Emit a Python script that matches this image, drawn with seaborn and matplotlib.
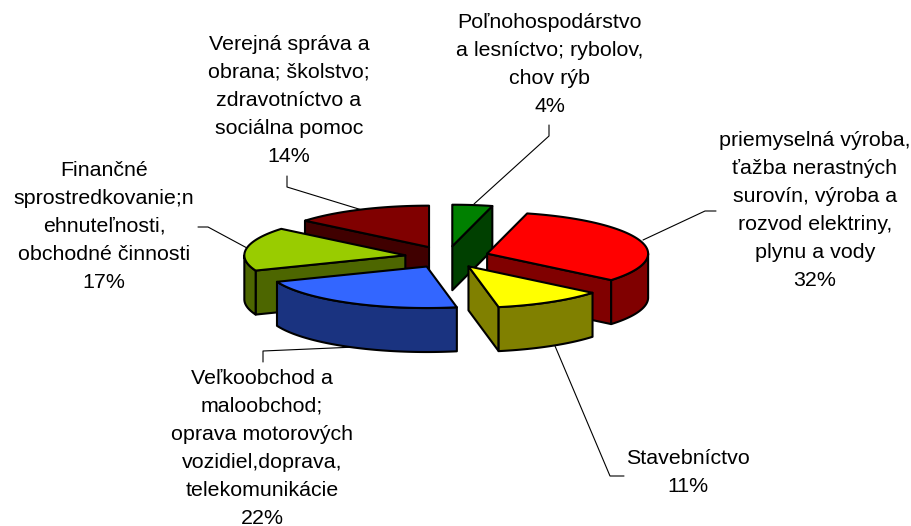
import numpy as np
import matplotlib
matplotlib.use("Agg")
import matplotlib.pyplot as plt
from matplotlib.patches import Polygon
import seaborn as sns

# ---- data -------------------------------------------------------------
categories = [
    "Poľnohospodárstvo\na lesníctvo; rybolov,\nchov rýb",
    "priemyselná výroba,\nťažba nerastných\nsurovín, výroba a\nrozvod elektriny,\nplynu a vody",
    "Stavebníctvo",
    "Veľkoobchod a\nmaloobchod;\noprava motorových\nvozidiel,doprava,\ntelekomunikácie",
    "Finančné\nsprostredkovanie;n\nehnuteľnosti,\nobchodné činnosti",
    "Verejná správa a\nobrana; školstvo;\nzdravotníctvo a\nsociálna pomoc",
]
values = [4, 32, 11, 22, 17, 14]
top_colors = ["#008000", "#FF0000", "#FFFF00", "#3366FF", "#99CC00", "#800000"]
side_colors = ["#004000", "#800000", "#808000", "#1A3380", "#4D6600", "#400000"]
draw_order = [0, 5, 4, 1, 2, 3]

# ---- pie geometry (pixels of the 912x526 canvas) ----------------------
W, H = 912, 526
CX, CY, RX, RY = 447, 257, 161, 41.5
DEPTH = 44
EXPLODE = 0.262

sns.set_theme(style="white")
plt.rcParams["font.family"] = ["Liberation Sans", "DejaVu Sans"]
fig = plt.figure(figsize=(W / 100, H / 100), dpi=100, facecolor="white")
ax = fig.add_axes([0, 0, 1, 1])
ax.set_xlim(0, W)
ax.set_ylim(H, 0)
ax.axis("off")


def pt(theta, r=1.0, origin=(CX, CY), dz=0.0):
    return (origin[0] + r * RX * np.sin(theta),
            origin[1] - r * RY * np.cos(theta) + dz)


fractions = np.array(values, dtype=float) / np.sum(values)
edges = np.concatenate([[0], np.cumsum(fractions)]) * 2 * np.pi
LW = 1.5

for rank, i in enumerate(draw_order):
    a0, a1 = edges[i], edges[i + 1]
    mid = (a0 + a1) / 2
    apex = pt(mid, EXPLODE)
    z = 2 + rank
    # radial cut faces that look toward the viewer
    for a, normal in ((a0, a0 - np.pi / 2), (a1, a1 + np.pi / 2)):
        if np.cos(normal) < -1e-6:
            p = pt(a, origin=apex)
            quad = [apex, p, (p[0], p[1] + DEPTH), (apex[0], apex[1] + DEPTH)]
            ax.add_patch(Polygon(quad, closed=True, fc=side_colors[i], ec="black",
                                 lw=LW, joinstyle="round", zorder=z))
    # outer rim, front half only
    lo, hi = max(a0, np.pi / 2), min(a1, 3 * np.pi / 2)
    if hi > lo:
        t = np.linspace(lo, hi, 60)
        upper = [pt(x, origin=apex) for x in t]
        lower = [pt(x, origin=apex, dz=DEPTH) for x in t[::-1]]
        ax.add_patch(Polygon(upper + lower, closed=True, fc=side_colors[i], ec="black",
                             lw=LW, joinstyle="round", zorder=z))
    # top face
    t = np.linspace(a0, a1, 80)
    ax.add_patch(Polygon([apex] + [pt(x, origin=apex) for x in t], closed=True,
                         fc=top_colors[i], ec="black", lw=LW, joinstyle="round", zorder=z))

# ---- labels and leader lines ------------------------------------------
label_pos = [(550, 64.5), (815, 211), (687.5, 473), (262, 448), (104, 226), (289, 100)]
leaders = [
    [(474, 204), (549, 136), (549, 125)],
    [(643, 240), (705, 211), (716, 211)],
    [(555, 346), (610, 476), (624, 476)],
    [(356, 347), (263, 351), (263, 362)],
    [(247, 248), (208, 227), (198, 227)],
    [(362, 210), (287, 187), (287, 176)],
]
for i, (name, val) in enumerate(zip(categories, values)):
    ax.text(*label_pos[i], f"{name}\n{val}%", ha="center", va="center",
            fontsize=15.4, linespacing=1.6, color="black", zorder=20)
    xs, ys = zip(*leaders[i])
    ax.plot(xs, ys, color="black", lw=0.8, zorder=1)

fig.savefig("out.png", dpi=100)
